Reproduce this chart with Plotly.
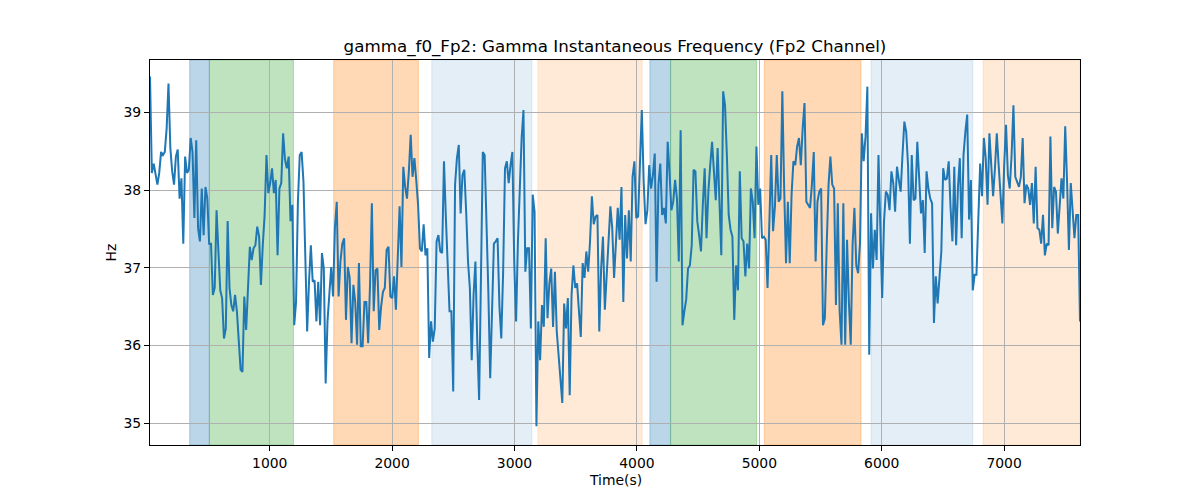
import numpy as np
import plotly.graph_objects as go

# ---- data ----
T_START = 22.0
T_END = 7620.0

hz = [
    # 0-~700
    39.46, 38.22, 38.34, 38.19, 38.07, 38.22, 38.49, 38.45, 38.49, 38.79, 39.37, 38.54, 38.24, 38.07, 38.43, 38.52,
    37.89, 38.15, 37.31, 38.43, 38.22, 38.26, 38.67, 38.49, 37.64, 38.64, 37.51, 37.34, 38.02, 37.42, 38.04, 37.89,
    37.31, 37.31, 36.65, 36.74, 37.74, 37.21, 36.71, 36.61, 36.09, 36.22, 37.60, 36.74, 36.52, 36.44, 36.65,
    # ~700-1400
    36.44, 36.05, 35.69, 35.66, 36.63, 36.20, 36.74, 37.27, 37.10, 37.25, 37.29, 37.53, 37.40, 36.78, 37.29, 37.68,
    38.45, 37.96, 38.09, 38.28, 37.96, 38.13, 37.16, 38.02, 38.09, 38.73, 38.39, 38.28, 38.43, 37.60, 37.81, 36.26,
    36.56, 37.85, 38.45, 38.49, 38.11, 37.29, 36.18, 36.82, 37.29, 36.82, 36.84, 36.31, 36.82, 36.26,
    # ~1400-2100
    37.19, 36.99, 35.51, 36.31, 36.63, 37.01, 36.63, 37.51, 37.85, 36.63, 37.08, 37.31, 37.38, 36.33, 37.01, 36.87,
    36.03, 36.78, 36.56, 36.01, 37.06, 35.99, 35.99, 36.56, 36.56, 36.03, 36.78, 37.83, 36.44, 36.97, 36.99, 36.20,
    36.50, 36.69, 36.74, 37.23, 37.27, 36.63, 36.61, 36.89, 36.46, 37.08, 37.79, 37.01, 38.30, 38.04,
    # ~2100-2800
    37.89, 38.24, 38.71, 38.17, 38.41, 38.13, 37.81, 37.25, 37.21, 37.56, 37.16, 37.25, 35.84, 36.31, 36.05, 36.22,
    37.34, 37.42, 37.21, 37.19, 38.37, 37.66, 37.08, 36.44, 36.44, 35.41, 38.07, 38.41, 38.58, 37.70, 38.19, 38.26,
    37.72, 37.08, 36.74, 35.81, 36.65, 37.08, 36.05, 35.30, 36.87, 38.49, 38.45, 37.68, 36.69, 35.58,
    # ~2800-3500
    36.48, 37.31, 37.34, 37.38, 36.50, 36.09, 36.95, 38.28, 38.37, 38.09, 38.32, 38.49, 37.08, 36.31, 37.34, 38.07,
    38.67, 39.03, 36.95, 37.25, 37.25, 36.22, 37.94, 37.72, 34.96, 36.31, 35.81, 36.52, 36.24, 37.38, 36.35, 36.80,
    36.99, 36.24, 36.95, 36.18, 35.88, 35.62, 35.26, 36.54, 36.22, 36.61, 35.36, 36.65, 37.03, 36.74, 36.80,
    # ~3500-4200
    36.44, 36.11, 37.06, 36.87, 37.21, 36.95, 37.34, 37.92, 37.56, 37.66, 37.68, 36.18, 36.99, 37.40, 36.46, 36.99,
    37.34, 37.79, 37.51, 36.87, 37.42, 37.77, 37.36, 38.04, 36.56, 37.68, 37.12, 37.74, 37.08, 38.17, 38.37, 37.64,
    37.66, 38.32, 39.03, 38.11, 37.56, 37.74, 38.32, 38.02, 38.19, 38.47, 36.82, 38.07, 38.34, 37.68,
    # ~4200-4900
    37.77, 37.57, 38.62, 38.22, 37.74, 37.85, 38.13, 37.89, 37.08, 38.77, 36.26, 36.44, 36.59, 36.99, 37.03, 37.29,
    38.26, 38.24, 37.60, 37.42, 37.21, 37.81, 38.28, 37.38, 37.98, 38.32, 38.62, 38.24, 37.87, 38.54, 37.77, 37.16,
    39.27, 39.09, 38.45, 37.68, 37.49, 37.40, 36.33, 37.03, 36.71, 38.24, 37.38, 37.34, 36.89, 37.31, 36.99,
    # ~4900-5600
    38.02, 37.85, 37.38, 38.56, 37.81, 38.02, 37.38, 37.40, 37.36, 36.74, 37.47, 38.45, 37.47, 37.79, 38.45, 37.85,
    37.89, 39.27, 38.02, 37.06, 37.85, 37.06, 37.94, 38.37, 38.32, 38.56, 38.67, 38.32, 38.79, 39.12, 37.85, 37.81,
    37.77, 38.07, 38.49, 37.08, 37.85, 37.98, 38.02, 36.26, 36.35, 37.29, 38.07, 38.43, 38.07, 38.02, 36.52,
    # ~5600-6300
    37.83, 36.44, 36.01, 37.83, 36.01, 37.36, 36.56, 36.01, 37.29, 37.77, 37.03, 36.93, 37.31, 38.73, 38.37, 38.69,
    39.33, 35.88, 37.70, 36.99, 37.49, 37.10, 38.45, 37.60, 36.61, 37.60, 37.98, 37.94, 37.74, 38.24, 38.09, 37.72,
    38.30, 38.13, 37.98, 38.45, 38.88, 38.75, 38.32, 37.31, 38.45, 37.87, 37.89, 38.62, 38.19, 37.70,
    # ~6300-7000
    37.87, 37.19, 38.24, 38.02, 37.89, 37.83, 36.29, 36.89, 36.54, 36.87, 37.21, 38.28, 38.13, 38.15, 38.37, 37.77,
    37.34, 38.30, 37.29, 38.04, 38.41, 37.38, 38.45, 38.75, 38.97, 37.62, 38.13, 36.71, 36.91, 36.91, 37.72, 38.34,
    37.92, 38.67, 38.41, 37.81, 38.73, 38.32, 37.92, 38.28, 38.73, 38.32, 37.94, 37.57, 38.32, 38.84, 38.19,
    # ~7000-7620
    38.02, 38.45, 39.09, 38.17, 38.09, 38.04, 38.17, 38.67, 37.83, 38.07, 38.02, 37.81, 38.09, 37.57, 38.30, 37.51,
    37.49, 37.31, 37.68, 37.16, 37.31, 37.29, 38.69, 37.51, 38.04, 37.98, 37.44, 37.81, 38.15, 37.89, 38.82, 38.11,
    37.23, 38.09, 37.68, 37.38, 37.68, 37.68, 36.31,
]

# uniformly sampled signal: sample times between start and end
time_s = np.linspace(T_START, T_END, len(hz))

# shaded intervals (start, end, kind)
span_starts = [346, 507, 1523, 2324, 3191, 4106, 4275, 5041, 5913, 6828]
span_ends = [507, 1194, 2215, 3142, 4043, 4275, 4978, 5831, 6744, 7620]
span_kinds = ["blue", "green", "orange", "lightblue", "peach",
              "blue", "green", "orange", "lightblue", "peach"]

x_ticks = [1000, 2000, 3000, 4000, 5000, 6000, 7000]
y_ticks = [35, 36, 37, 38, 39]

TITLE = "gamma_f0_Fp2: Gamma Instantaneous Frequency (Fp2 Channel)"
X_LABEL = "Time(s)"
Y_LABEL = "Hz"

# ---- styling ----
kind_colors = {
    "blue": "rgba(31,119,180,0.3)",
    "green": "rgba(44,160,44,0.3)",
    "orange": "rgba(255,127,14,0.3)",
    "lightblue": "rgba(31,119,180,0.12)",
    "peach": "rgba(255,127,14,0.16)",
}

FONT = "DejaVu Sans"
OFF = 8  # page body margin offset

fig = go.Figure()
fig.add_trace(go.Scatter(
    x=time_s, y=hz, mode="lines",
    line=dict(color="#1f77b4", width=2),
    showlegend=False, hoverinfo="x+y",
))

for s, e, k in zip(span_starts, span_ends, span_kinds):
    fig.add_shape(type="rect", xref="x", yref="paper",
                  x0=s, x1=e, y0=0, y1=1,
                  fillcolor=kind_colors[k],
                  line=dict(color=kind_colors[k], width=1),
                  layer="below")

axis_common = dict(
    showgrid=True, gridcolor="#b0b0b0", gridwidth=1,
    showline=True, linecolor="black", linewidth=1, mirror=True,
    ticks="outside", ticklen=5, tickwidth=1, tickcolor="black",
    zeroline=False,
    tickfont=dict(family=FONT, size=13.9, color="black"),
)

fig.update_layout(
    width=1200, height=500,
    margin=dict(l=150 - OFF, r=120 + OFF, t=60 - OFF, b=55 + OFF),
    paper_bgcolor="white", plot_bgcolor="white",
    font=dict(family=FONT, color="black"),
    title=dict(text=TITLE, x=0.5, xref="paper", y=1 - (46 - OFF) / 500, yref="container",
               xanchor="center", yanchor="middle",
               font=dict(family=FONT, size=16.7, color="black")),
    xaxis=dict(range=[T_START, T_END], tickvals=x_ticks,
               ticktext=[str(v) for v in x_ticks], **axis_common),
    yaxis=dict(range=[34.72, 39.673], tickvals=y_ticks,
               ticktext=[str(v) for v in y_ticks], **axis_common),
    annotations=[
        dict(text=X_LABEL, xref="paper", yref="paper", x=0.5, y=-35 / 385,
             xanchor="center", yanchor="middle", showarrow=False,
             font=dict(family=FONT, size=13.9, color="black")),
        dict(text=Y_LABEL, xref="paper", yref="paper", x=-40 / 930, y=0.5,
             xanchor="center", yanchor="middle", showarrow=False, textangle=-90,
             font=dict(family=FONT, size=13.9, color="black")),
    ],
)

fig.write_html("out.html")
